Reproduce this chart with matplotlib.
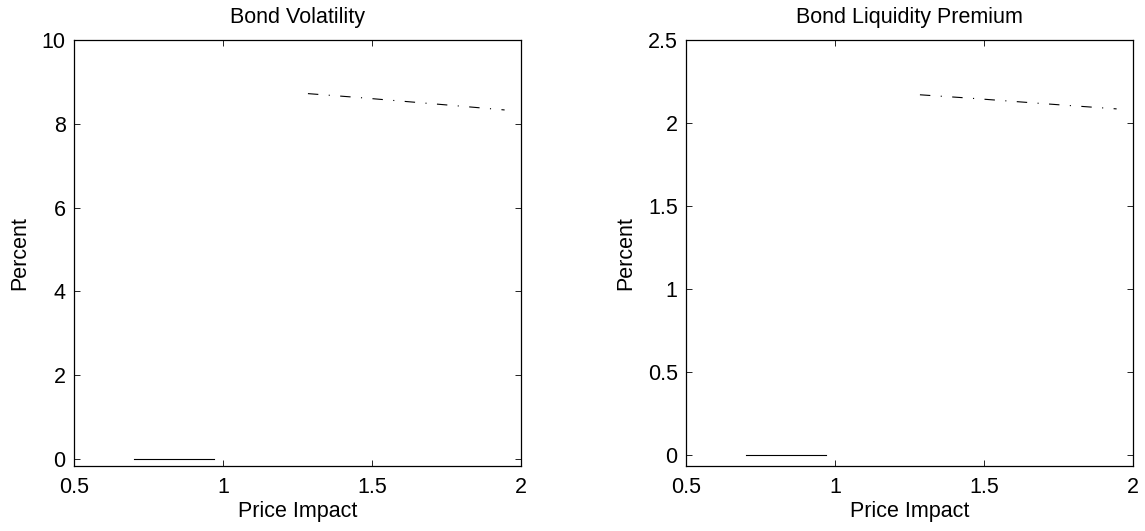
import matplotlib
matplotlib.use('Agg')
import matplotlib.pyplot as plt

plt.rcParams['font.family'] = ['Liberation Sans', 'DejaVu Sans']
plt.rcParams['lines.scale_dashes'] = False

# Data
low_x = [0.70, 0.80, 0.90, 0.97]
vol_low = [0.0, 0.0, 0.0, 0.0]
liq_low = [0.0, 0.0, 0.0, 0.0]

high_x = [1.285, 1.45, 1.60, 1.75, 1.945]
vol_high = [8.72, 8.63, 8.54, 8.45, 8.33]
liq_high = [2.17, 2.15, 2.13, 2.11, 2.085]

titles = ['Bond Volatility', 'Bond Liquidity Premium']
ylims = [(-0.17, 10), (-0.066, 2.5)]
yticks = [[0, 2, 4, 6, 8, 10], [0, 0.5, 1, 1.5, 2, 2.5]]
yticklabels = [['0', '2', '4', '6', '8', '10'], ['0', '0.5', '1', '1.5', '2', '2.5']]
xticks = [0.5, 1, 1.5, 2]
xticklabels = ['0.5', '1', '1.5', '2']

fig = plt.figure(figsize=(11.45, 5.31), dpi=100)
ax1 = fig.add_axes([74/1145, 65/531, 447/1145, 426/531])
ax2 = fig.add_axes([686/1145, 65/531, 447/1145, 426/531])

FS = 15.5
series = [(vol_low, vol_high), (liq_low, liq_high)]
for i, ax in enumerate([ax1, ax2]):
    lo, hi = series[i]
    ax.plot(low_x, lo, color='black', linewidth=0.8)
    ax.plot(high_x, hi, color='black', linewidth=0.8, linestyle=(0, (7.5, 7.5, 0.8, 7.5)))
    ax.set_xlim(0.5, 2)
    ax.set_ylim(*ylims[i])
    ax.set_xticks(xticks)
    ax.set_xticklabels(xticklabels)
    ax.set_yticks(yticks[i])
    ax.set_yticklabels(yticklabels[i])
    ax.tick_params(direction='in', top=True, right=True, length=4, width=0.6,
                   labelsize=FS, pad=6)
    ax.tick_params(axis='x', pad=8)
    for s in ax.spines.values():
        s.set_linewidth(0.9)
    ax.set_title(titles[i], fontsize=FS, pad=12)
    ax.set_xlabel('Price Impact', fontsize=FS, labelpad=2)
    ax.set_ylabel('Percent', fontsize=FS, labelpad=8)

fig.savefig('out.png', dpi=100, facecolor='white')
